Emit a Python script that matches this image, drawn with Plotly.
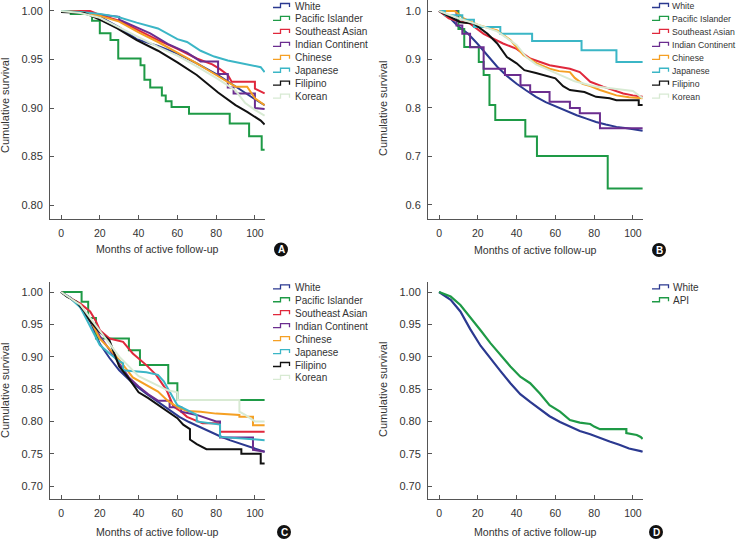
import plotly.graph_objects as go

W, H = 737, 541

# ---------------- data ----------------
GROUPS = ["White", "Pacific Islander", "Southeast Asian", "Indian Continent",
          "Chinese", "Japanese", "Filipino", "Korean"]
GROUPS_D = ["White", "API"]
X_TICKS = [0, 20, 40, 60, 80, 100]
Y_TICKS_A = [0.80, 0.85, 0.90, 0.95, 1.00]
Y_TICKS_B = [0.6, 0.7, 0.8, 0.9, 1.0]
Y_TICKS_CD = [0.70, 0.75, 0.80, 0.85, 0.90, 0.95, 1.00]
X_TITLE = "Months of active follow-up"
Y_TITLE = "Cumulative survival"
PANEL_LABELS = ["A", "B", "C", "D"]

# Panel A
a_white_m = [0, 10, 20, 30, 39, 50, 60, 70, 81, 90, 100, 105]
a_white_s = [1.0, 0.998, 0.994, 0.983, 0.971, 0.964, 0.956, 0.946, 0.934, 0.922, 0.909, 0.903]
a_pacific_m = [0, 5, 5, 16, 16, 20, 20, 25.5, 25.5, 29.5, 29.5, 41, 41, 43, 43, 46, 46, 52, 52, 54, 54, 57, 57, 66, 66, 87, 87, 97, 97, 103.5, 103.5, 105]
a_pacific_s = [1.0, 1.0, 0.997, 0.997, 0.99, 0.99, 0.977, 0.977, 0.97, 0.97, 0.951, 0.951, 0.944, 0.944, 0.929, 0.929, 0.921, 0.921, 0.913, 0.913, 0.907, 0.907, 0.901, 0.901, 0.894, 0.894, 0.884, 0.884, 0.871, 0.871, 0.857, 0.857]
a_seasian_m = [0, 15, 20, 30, 40, 50, 60, 70, 78, 82, 86, 88, 100, 100, 105]
a_seasian_s = [1.0, 1.0, 0.996, 0.990, 0.980, 0.970, 0.961, 0.951, 0.945, 0.940, 0.934, 0.927, 0.927, 0.920, 0.915]
a_indian_m = [0, 10, 25, 30, 30, 46, 55, 65, 72, 81, 81, 86, 86, 89, 89, 100, 100, 105]
a_indian_s = [0.999, 0.999, 0.995, 0.994, 0.991, 0.977, 0.966, 0.957, 0.948, 0.948, 0.935, 0.935, 0.921, 0.921, 0.915, 0.915, 0.900, 0.899]
a_chinese_m = [0, 10, 20, 30, 40, 50, 60, 70, 80, 90, 96, 100, 105]
a_chinese_s = [1.0, 0.999, 0.995, 0.989, 0.978, 0.968, 0.957, 0.946, 0.934, 0.922, 0.922, 0.910, 0.903]
a_japanese_m = [0, 10, 20, 29, 39, 50, 60, 65, 72, 79, 86, 93, 100, 103, 105]
a_japanese_s = [1.0, 0.999, 0.997, 0.994, 0.988, 0.982, 0.971, 0.968, 0.959, 0.953, 0.949, 0.946, 0.943, 0.942, 0.937]
a_filipino_m = [0, 12, 20, 29, 39, 50, 60, 70, 81, 90, 96, 103, 105]
a_filipino_s = [0.999, 0.998, 0.991, 0.982, 0.970, 0.959, 0.947, 0.934, 0.916, 0.903, 0.896, 0.887, 0.883]
a_korean_m = [0, 10, 20, 30, 40, 50, 60, 70, 80, 90, 95, 100, 105]
a_korean_s = [1.0, 0.998, 0.993, 0.983, 0.973, 0.963, 0.954, 0.943, 0.931, 0.918, 0.905, 0.898, 0.892]

# Panel B
b_white_m = [0, 5, 9.4, 15, 19.7, 25, 30, 35, 40, 45, 50, 55, 60.7, 66, 71, 76, 81, 86, 91.5, 97, 105]
b_white_s = [1.0, 0.988, 0.970, 0.953, 0.933, 0.908, 0.885, 0.866, 0.850, 0.836, 0.823, 0.812, 0.802, 0.793, 0.785, 0.778, 0.771, 0.766, 0.761, 0.758, 0.753]
b_pacific_m = [0, 10, 10, 13, 13, 20.5, 20.5, 23, 23, 26, 26, 29, 29, 44.5, 44.5, 50.5, 50.5, 87, 87, 105]
b_pacific_s = [1.0, 1.0, 0.963, 0.963, 0.926, 0.926, 0.895, 0.895, 0.868, 0.868, 0.806, 0.806, 0.775, 0.775, 0.741, 0.741, 0.701, 0.701, 0.634, 0.634]
b_seasian_m = [0, 5, 10, 16, 23, 33, 40, 47, 57, 67.5, 72.6, 78, 84.6, 95, 100, 105]
b_seasian_s = [1.0, 0.985, 0.979, 0.974, 0.953, 0.933, 0.922, 0.902, 0.888, 0.881, 0.874, 0.854, 0.844, 0.830, 0.826, 0.823]
b_indian_m = [0, 9, 9, 12, 12, 16, 16, 23, 23, 34, 34, 42, 42, 47, 47, 57, 57, 67.5, 67.5, 72.6, 72.6, 83, 83, 105]
b_indian_s = [1.0, 1.0, 0.97, 0.97, 0.953, 0.953, 0.925, 0.925, 0.881, 0.881, 0.868, 0.868, 0.847, 0.847, 0.833, 0.833, 0.813, 0.813, 0.800, 0.800, 0.789, 0.789, 0.758, 0.758]
b_chinese_m = [0, 8, 13, 21, 30, 36.8, 43.6, 50.4, 57, 62, 67.5, 70, 74, 78, 83, 88, 91.5, 98, 105]
b_chinese_s = [1.0, 1.0, 0.984, 0.970, 0.960, 0.940, 0.909, 0.892, 0.881, 0.876, 0.874, 0.862, 0.850, 0.845, 0.837, 0.830, 0.826, 0.822, 0.820]
b_japanese_m = [0, 3, 3, 12, 12, 18, 18, 31.6, 31.6, 48, 48, 73.5, 73.5, 91.5, 91.5, 105]
b_japanese_s = [1.0, 1.0, 0.991, 0.991, 0.982, 0.982, 0.967, 0.967, 0.953, 0.953, 0.938, 0.938, 0.919, 0.919, 0.895, 0.895]
b_filipino_m = [0, 6, 11, 18, 25, 30, 35, 40, 44, 50, 55, 60, 64, 67.5, 75, 81, 88, 91.5, 103, 103, 105]
b_filipino_s = [1.0, 0.988, 0.977, 0.974, 0.953, 0.933, 0.905, 0.892, 0.878, 0.872, 0.866, 0.861, 0.845, 0.837, 0.833, 0.823, 0.820, 0.816, 0.816, 0.806, 0.806]
b_korean_m = [0, 10, 20, 30, 40, 45, 50, 60, 70, 80, 90, 100, 105]
b_korean_s = [1.0, 0.985, 0.972, 0.958, 0.930, 0.905, 0.890, 0.872, 0.855, 0.845, 0.840, 0.835, 0.820]

# Panel C
c_white_m = [0, 5, 9.8, 15, 20, 25, 30, 37, 44, 51, 56, 61, 66, 71.6, 77, 82, 87, 92, 98, 105]
c_white_s = [1.0, 0.991, 0.977, 0.955, 0.920, 0.898, 0.879, 0.859, 0.843, 0.828, 0.817, 0.807, 0.799, 0.791, 0.784, 0.777, 0.771, 0.766, 0.760, 0.753]
c_pacific_m = [0, 10.6, 10.6, 14, 14, 18, 18, 35, 35, 40.7, 40.7, 55.3, 55.3, 60, 60, 105]
c_pacific_s = [1.0, 1.0, 0.985, 0.985, 0.960, 0.960, 0.928, 0.928, 0.910, 0.910, 0.887, 0.887, 0.859, 0.859, 0.833, 0.833]
c_seasian_m = [0, 5, 10, 15, 18, 20, 25, 32, 37, 44, 49, 54.5, 58, 62, 65, 73, 82, 82, 105]
c_seasian_s = [1.0, 0.99, 0.982, 0.970, 0.955, 0.941, 0.928, 0.923, 0.905, 0.887, 0.872, 0.848, 0.823, 0.815, 0.807, 0.797, 0.797, 0.784, 0.784]
c_indian_m = [0, 5, 10, 15, 20, 25, 30, 35, 40, 45, 50, 56, 56, 62, 62, 70, 80, 82, 82, 99, 99, 105]
c_indian_s = [1.0, 0.99, 0.978, 0.958, 0.932, 0.910, 0.888, 0.868, 0.854, 0.842, 0.832, 0.832, 0.822, 0.822, 0.815, 0.810, 0.800, 0.800, 0.775, 0.775, 0.756, 0.753]
c_chinese_m = [0, 5, 10, 15, 20, 25, 30, 37, 44, 50, 55, 60, 65, 72, 80, 92, 92, 99, 99, 105]
c_chinese_s = [1.0, 0.99, 0.980, 0.957, 0.928, 0.912, 0.895, 0.868, 0.856, 0.846, 0.832, 0.822, 0.816, 0.815, 0.812, 0.810, 0.807, 0.807, 0.794, 0.794]
c_japanese_m = [0, 5, 10, 15, 20, 25, 30, 32, 32, 44, 50, 53, 53, 57, 57, 60, 60, 70, 70, 82, 82, 105]
c_japanese_s = [1.0, 0.99, 0.976, 0.948, 0.918, 0.905, 0.893, 0.890, 0.879, 0.876, 0.872, 0.862, 0.862, 0.842, 0.842, 0.825, 0.825, 0.810, 0.800, 0.795, 0.776, 0.771]
c_filipino_m = [0, 3, 8, 12, 15, 18, 20, 25, 28, 30, 35, 40, 45, 50, 55, 60, 63, 66.5, 66.5, 70, 75, 93, 93, 103, 103, 105]
c_filipino_s = [1.0, 0.993, 0.985, 0.970, 0.955, 0.945, 0.938, 0.925, 0.900, 0.885, 0.866, 0.845, 0.836, 0.826, 0.815, 0.805, 0.795, 0.788, 0.772, 0.765, 0.757, 0.757, 0.750, 0.750, 0.735, 0.735]
c_korean_m = [0, 5, 10, 15, 20, 25, 30, 40, 50, 55, 60, 60, 92, 92, 95, 100, 105]
c_korean_s = [1.0, 0.99, 0.980, 0.960, 0.940, 0.920, 0.900, 0.870, 0.855, 0.848, 0.845, 0.833, 0.833, 0.815, 0.810, 0.800, 0.800]

# Panel D
d_white_m = [0, 6, 11, 16, 21.4, 26.5, 31.6, 36.8, 41.9, 47, 52, 57, 62.4, 67.5, 72.6, 78, 83, 88, 93, 98, 104, 105]
d_white_s = [1.0, 0.988, 0.970, 0.943, 0.917, 0.897, 0.878, 0.859, 0.842, 0.830, 0.819, 0.808, 0.799, 0.792, 0.785, 0.780, 0.774, 0.769, 0.764, 0.758, 0.754, 0.753]
d_api_m = [0, 6, 11, 16, 21.4, 26.5, 31.6, 36.8, 41.9, 47, 52, 57, 62.4, 67.5, 72.6, 78, 80, 83, 88, 93, 96.6, 96.6, 102, 104, 105]
d_api_s = [1.0, 0.993, 0.980, 0.962, 0.941, 0.921, 0.903, 0.885, 0.869, 0.859, 0.843, 0.825, 0.815, 0.802, 0.798, 0.796, 0.792, 0.788, 0.788, 0.788, 0.788, 0.782, 0.779, 0.776, 0.773]

# ---------------- styling ----------------
COLORS = {
    "White": "#2b3990", "Pacific Islander": "#1e9a46", "Southeast Asian": "#e0283c",
    "Indian Continent": "#6b2d8f", "Chinese": "#f5a024", "Japanese": "#3bb6c6",
    "Filipino": "#111111", "Korean": "#d8ead3", "API": "#1e9a46",
}
FONT = "Liberation Sans, Arial, Helvetica, sans-serif"
TXT = "#333333"
AX = "#555555"

def px(x):
    return x / W

def py(y):
    return 1 - y / H

panels = [
    dict(x="x", y="y", xp=(50, 265), yp=(0, 219), yr=(0.7856, 1.0113), yt=Y_TICKS_A, fmt="{:.2f}",
         series=[(a_white_m, a_white_s), (a_pacific_m, a_pacific_s), (a_seasian_m, a_seasian_s),
                 (a_indian_m, a_indian_s), (a_chinese_m, a_chinese_s), (a_japanese_m, a_japanese_s),
                 (a_filipino_m, a_filipino_s), (a_korean_m, a_korean_s)],
         names=GROUPS, leg=(273, 293, 6, 10), ytitle_x=5, ytitle_y=106, xtitle_y=249.5, lab=(281, 249.5)),
    dict(x="x2", y="y2", xp=(428, 643), yp=(0, 219), yr=(0.571, 1.0227), yt=Y_TICKS_B, fmt="{:.1f}",
         series=[(b_white_m, b_white_s), (b_pacific_m, b_pacific_s), (b_seasian_m, b_seasian_s),
                 (b_indian_m, b_indian_s), (b_chinese_m, b_chinese_s), (b_japanese_m, b_japanese_s),
                 (b_filipino_m, b_filipino_s), (b_korean_m, b_korean_s)],
         names=GROUPS, leg=(652, 670, 6, 8.7), ytitle_x=383, ytitle_y=109, xtitle_y=250, lab=(659, 250)),
    dict(x="x3", y="y3", xp=(50, 265), yp=(282, 499), yr=(0.68, 1.0155), yt=Y_TICKS_CD, fmt="{:.2f}",
         series=[(c_white_m, c_white_s), (c_pacific_m, c_pacific_s), (c_seasian_m, c_seasian_s),
                 (c_indian_m, c_indian_s), (c_chinese_m, c_chinese_s), (c_japanese_m, c_japanese_s),
                 (c_filipino_m, c_filipino_s), (c_korean_m, c_korean_s)],
         names=GROUPS, leg=(273, 293, 287.3, 10), ytitle_x=5, ytitle_y=391, xtitle_y=531.5, lab=(284, 532)),
    dict(x="x4", y="y4", xp=(428, 643), yp=(282, 499), yr=(0.68, 1.0155), yt=Y_TICKS_CD, fmt="{:.2f}",
         series=[(d_white_m, d_white_s), (d_api_m, d_api_s)],
         names=GROUPS_D, leg=(652, 671, 287.3, 10), ytitle_x=383, ytitle_y=390, xtitle_y=531.5, lab=(656, 532)),
]

fig = go.Figure()
shapes, annots = [], []
layout_axes = {}

for i, p in enumerate(panels):
    for (m, s), name in zip(p["series"], p["names"]):
        fig.add_trace(go.Scatter(
            x=m, y=s, mode="lines", name=name, showlegend=False,
            xaxis=p["x"], yaxis=p["y"],
            line=dict(color=COLORS[name], width=2.2 if i == 3 else 2, shape="linear"),
            hoverinfo="skip"))
    xkey = "xaxis" if p["x"] == "x" else "xaxis" + p["x"][1:]
    ykey = "yaxis" if p["y"] == "y" else "yaxis" + p["y"][1:]
    common = dict(showline=True, linecolor=AX, linewidth=1, ticks="inside", ticklen=4,
                  tickcolor=AX, tickwidth=1, showgrid=False, zeroline=False)
    layout_axes[xkey] = dict(common, domain=[px(p["xp"][0]), px(p["xp"][1])], range=[-5.7, 105.2],
                             anchor=p["y"], tickvals=X_TICKS, ticktext=[str(v) for v in X_TICKS],
                             tickfont=dict(family=FONT, size=10.5, color=TXT), ticklabelstandoff=4)
    layout_axes[ykey] = dict(common, domain=[py(p["yp"][1]), py(p["yp"][0])], range=list(p["yr"]),
                             anchor=p["x"], tickvals=p["yt"], ticktext=[p["fmt"].format(v) for v in p["yt"]],
                             tickfont=dict(family=FONT, size=11, color=TXT), ticklabelstandoff=4)
    # axis titles
    annots.append(dict(x=px((p["xp"][0] + p["xp"][1]) / 2), y=py(p["xtitle_y"]), xref="paper", yref="paper",
                       text=X_TITLE, showarrow=False, xanchor="center", yanchor="middle",
                       font=dict(family=FONT, size=10.6, color=TXT)))
    annots.append(dict(x=px(p["ytitle_x"]), y=py(p["ytitle_y"]), xref="paper", yref="paper",
                       text=Y_TITLE, showarrow=False, xanchor="center", yanchor="middle", textangle=-90,
                       font=dict(family=FONT, size=11, color=TXT)))
    # custom legend with KM-style glyphs
    gx, tx, y0, fs = p["leg"]
    for k, name in enumerate(p["names"]):
        yc = y0 + k * 12.95
        path = (f"M {px(gx)},{py(yc + 1.5)} L {px(gx + 7.5)},{py(yc + 1.5)} "
                f"L {px(gx + 7.5)},{py(yc - 2.5)} L {px(gx + 16.5)},{py(yc - 2.5)} "
                f"L {px(gx + 16.5)},{py(yc + 1)}")
        shapes.append(dict(type="path", path=path, xref="paper", yref="paper",
                           line=dict(color=COLORS[name], width=1.3)))
        annots.append(dict(x=px(tx), y=py(yc), xref="paper", yref="paper", text=name,
                           showarrow=False, xanchor="left", yanchor="middle",
                           font=dict(family=FONT, size=fs, color=TXT)))
    # panel label
    cx, cy = p["lab"]
    r = 7
    shapes.append(dict(type="circle", xref="paper", yref="paper",
                       x0=px(cx - r), x1=px(cx + r), y0=py(cy + r), y1=py(cy - r),
                       fillcolor="#111111", line=dict(color="#111111", width=0)))
    annots.append(dict(x=px(cx), y=py(cy), xref="paper", yref="paper", text=f"<b>{PANEL_LABELS[i]}</b>",
                       showarrow=False, xanchor="center", yanchor="middle",
                       font=dict(family=FONT, size=10, color="white")))

fig.update_layout(width=W, height=H, margin=dict(l=0, r=0, t=0, b=0),
                  plot_bgcolor="white", paper_bgcolor="white", hovermode=False,
                  shapes=shapes, annotations=annots, **layout_axes)

fig.write_html("out.html", config={"displayModeBar": False, "staticPlot": True},
               post_script="document.body.style.margin='0px';document.body.style.overflow='hidden';")
